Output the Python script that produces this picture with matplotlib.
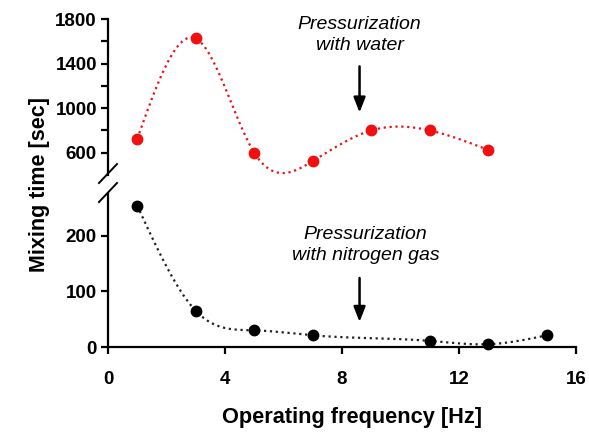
import numpy as np
import matplotlib.pyplot as plt

# data
freq_water = [1, 3, 5, 7, 9, 11, 13]
time_water = [725, 1625, 600, 525, 800, 800, 625]
freq_n2 = [1, 3, 5, 7, 11, 13, 15]
time_n2 = [254, 65, 30, 21, 11, 5, 21]

x_ticks = [0, 4, 8, 12, 16]
top_ticks = [600, 1000, 1400, 1800]
bottom_ticks = [0, 100, 200]


def natural_spline(x, y, n=300):
    # natural cubic spline through the measured points
    x = np.asarray(x, float)
    y = np.asarray(y, float)
    h = np.diff(x)
    m = len(x)
    A = np.zeros((m, m))
    b = np.zeros(m)
    A[0, 0] = A[-1, -1] = 1
    for i in range(1, m - 1):
        A[i, i - 1] = h[i - 1]
        A[i, i] = 2 * (h[i - 1] + h[i])
        A[i, i + 1] = h[i]
        b[i] = 6 * ((y[i + 1] - y[i]) / h[i] - (y[i] - y[i - 1]) / h[i - 1])
    M = np.linalg.solve(A, b)
    xs = np.linspace(x[0], x[-1], n)
    k = np.clip(np.searchsorted(x, xs) - 1, 0, m - 2)
    t = xs - x[k]
    hk = h[k]
    ys = (M[k] * (x[k + 1] - xs) ** 3 / (6 * hk) + M[k + 1] * t ** 3 / (6 * hk)
          + (y[k] / hk - M[k] * hk / 6) * (x[k + 1] - xs)
          + (y[k + 1] / hk - M[k + 1] * hk / 6) * t)
    return xs, ys


plt.rcParams['font.family'] = ['Liberation Sans', 'DejaVu Sans']

fig = plt.figure(figsize=(5.89, 4.34), dpi=100)
ax_top = fig.add_axes([108/589, 1 - 175/434, 468/589, 156/434])
ax_bot = fig.add_axes([108/589, 1 - 347/434, 468/589, 153/434])

for ax in (ax_top, ax_bot):
    for s in ("top", "right"):
        ax.spines[s].set_visible(False)
    ax.spines["left"].set_linewidth(1.6)
    ax.tick_params(direction="out", length=5, width=1.6, labelsize=13.5)
    ax.set_xlim(0, 16)

ax_top.spines["bottom"].set_visible(False)
ax_top.tick_params(axis="x", bottom=False, labelbottom=False)
ax_top.set_ylim(400, 1800)
ax_top.set_yticks(top_ticks)
ax_top.set_yticks([800, 1200, 1600], minor=True)
ax_top.tick_params(axis="y", which="minor", length=5, width=1.6)
ax_top.tick_params(axis="y", pad=3)

ax_bot.spines["bottom"].set_linewidth(1.6)
ax_bot.set_ylim(0, 275)
ax_bot.set_yticks(bottom_ticks)
ax_bot.set_xticks(x_ticks)
ax_bot.tick_params(axis="x", pad=12)
ax_bot.tick_params(axis="y", pad=3)

for ax in (ax_top, ax_bot):
    for lab in ax.get_yticklabels() + ax.get_xticklabels():
        lab.set_fontweight("bold")

xs, ys = natural_spline(freq_water, time_water)
ax_top.plot(xs, ys, ls=":", color="#e8141a", lw=1.6, clip_on=False)
ax_top.plot(freq_water, time_water, "o", color="#f01010", ms=7.5, clip_on=False)

xs, ys = natural_spline(freq_n2, time_n2)
ax_bot.plot(xs, ys, ls=":", color="#222222", lw=1.6, clip_on=False)
ax_bot.plot(freq_n2, time_n2, "o", color="black", ms=7.5, clip_on=False)

# arrows and notes
arrow = dict(arrowstyle="-|>,head_width=0.35,head_length=0.9",
             color="black", lw=1.8, shrinkA=0, shrinkB=0)
ax_top.annotate("", xy=(8.6, 960), xytext=(8.6, 1375), arrowprops=arrow)
ax_top.text(8.6, 1656, "Pressurization\nwith water", ha="center", va="center",
            style="italic", fontsize=14, linespacing=1.3)
ax_bot.annotate("", xy=(8.6, 45), xytext=(8.6, 124), arrowprops=arrow)
ax_bot.text(8.8, 184, "Pressurization\nwith nitrogen gas", ha="center", va="center",
            style="italic", fontsize=14, linespacing=1.3)

# axis break marks
fig.add_artist(plt.Line2D([99/589, 117/589], [1 - 183/434, 1 - 164/434],
                          color="black", lw=1.4))
fig.add_artist(plt.Line2D([99/589, 117/589], [1 - 202/434, 1 - 183/434],
                          color="black", lw=1.4))

fig.text(352/589, 1 - 418/434, "Operating frequency [Hz]", ha="center", va="center",
         fontsize=15.7, fontweight="bold")
fig.text(40/589, 1 - 185/434, "Mixing time [sec]", ha="center", va="center",
         rotation=90, fontsize=15.5, fontweight="bold")

fig.savefig("out.png", dpi=100)
